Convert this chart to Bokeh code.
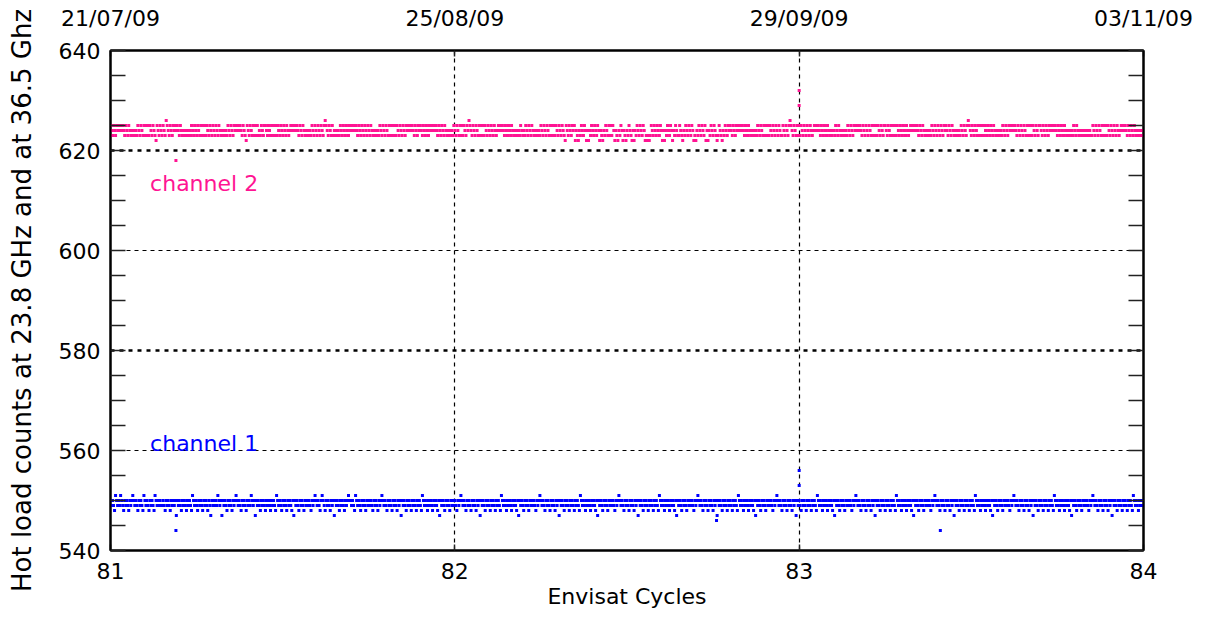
import numpy as np
from bokeh.plotting import figure
from bokeh.models import LinearAxis, FixedTicker, Range1d, Label, Grid
from bokeh.embed import file_html
from bokeh.resources import INLINE

# ---------------- data ----------------
cycle_start, cycle_end = 81.0, 84.0
x_ticks = [81, 82, 83, 84]
top_dates = ["21/07/09", "25/08/09", "29/09/09", "03/11/09"]
y_major = [540, 560, 580, 600, 620, 640]
y_minor = [545, 550, 555, 565, 570, 575, 585, 590, 595, 605, 610, 615, 625, 630, 635]
grid_bold = [580, 620]
grid_thin = [560, 600]
grid_vert = [82, 83]

# channel 2 hot-load counts, one digit per sample = count - 620
ch2_base = 620
ch2_digits = (
    "543543545454543543543434343543543535353543543254354"
    "354365435435454543543434343435435435435353535435435"
    "435435434343435435435454545435432543543535353435435"
    "543543535353543543543543454545454354354343434354354"
    "354354356543543534343435435435435454545435435435435"
    "435434343435435435435353535354354354354545454354354"
    "543543543545454543543543543434343543543535354354654"
    "354354353535354354354354345454543543543543434343543"
    "435435435434343435435435435353535435435432543543545"
    "243243543542424354354354243243543535354243243542432"
    "435432424354354354232323543543543542424354354243543"
    "354324354354354232435435435242435435432354324354354"
    "543543545454543543543434343543543535353543543543543"
    "354354356543543535354354354354345454543543543543434"
    "435435434343435435435454545435435435435353535435435"
    "543543535353543543543543454545454354354343434354354"
    "354354354543543543434343543543565435435435353535435"
    "435435434343435435435454545435435435435353535435435"
    "543543543545454543543543543434343543543434343434343"
    "354354354353535354354354354345454543543543543434343"
)
ch2_out_x = [81.19, 83.0, 83.0]
ch2_out_y = [618, 632, 629]

# channel 1 hot-load counts, one digit per sample = count - 545
ch1_base = 545
ch1_digits = (
    "545436545465435454354565454354543654543545436545454"
    "454354543545452545435454354543654543545435454354254"
    "545465452545435454354565454354543545465452545435454"
    "354543545436545435454354543525454354543545454354565"
    "454356543545435452545435454354565545436545435454354"
    "545435454354565454354543545435452545435454354543545"
    "436545435454354543525454354543545454354565454354543"
    "545435452545435454354543545436545435454354543525454"
    "354543545454354565454354543545435452545435454354543"
    "545436545435454354543525454354543545454354565454354"
    "543545435452545435454354543545436545435454354543525"
    "454354543545454354565454354543545435452545435454354"
    "543545436545435454354543525454354543545454354565454"
    "354543545435452545435454354543545436545435454354543"
    "525454354543545454354565454354543545435452545435454"
    "354543545436545435454354543525454354543545454354565"
    "454354543545435452545435454354543545436545435454354"
    "543525454354543545454354565454354543545435452545435"
    "454354543545436545435454354543525454354543545454354"
    "565454354543545435452545435454354543545436545435454"
)
ch1_out_x = [81.19, 83.0, 83.0, 83.41, 82.76]
ch1_out_y = [544, 556, 553, 544, 546]

FONT = "DejaVu Sans"
PINK = "#ff1493"
BLUE = "#0000ff"


def series(digits, base):
    n = len(digits)
    xs = cycle_start + (cycle_end - cycle_start) * np.arange(n) / n
    ys = np.array([base + int(c) for c in digits])
    return xs, ys


x2, y2 = series(ch2_digits, ch2_base)
x1, y1 = series(ch1_digits, ch1_base)

p = figure(frame_width=1033, frame_height=500,
           x_range=Range1d(cycle_start, cycle_end), y_range=Range1d(540, 640),
           output_backend="svg", toolbar_location=None,
           min_border_left=110, min_border_right=76,
           min_border_top=50, min_border_bottom=69)
p.background_fill_color = "white"
p.border_fill_color = "white"
p.outline_line_color = "black"
p.outline_line_width = 2
p.xgrid.visible = False
p.ygrid.visible = False

# grids
p.add_layout(Grid(dimension=1, ticker=FixedTicker(ticks=grid_bold),
                  grid_line_color="black", grid_line_width=2.5, grid_line_dash="4 5"))
p.add_layout(Grid(dimension=1, ticker=FixedTicker(ticks=grid_thin),
                  grid_line_color="black", grid_line_width=1, grid_line_dash="4 4"))
p.add_layout(Grid(dimension=0, ticker=FixedTicker(ticks=grid_vert),
                  grid_line_color="black", grid_line_width=1.2, grid_line_dash="4 4"))


def style_axis(ax, tick_in):
    ax.axis_line_color = "black"
    ax.axis_line_width = 2
    ax.major_tick_line_color = "#222222"
    ax.minor_tick_line_color = "#222222"
    ax.major_tick_line_width = 1.5
    ax.minor_tick_line_width = 1.5
    ax.major_tick_in = tick_in
    ax.major_tick_out = 0
    ax.minor_tick_in = tick_in
    ax.minor_tick_out = 0
    ax.major_label_text_font = FONT
    ax.major_label_text_font_size = "22px"
    ax.major_label_text_color = "black"
    ax.axis_label_text_font = FONT
    ax.axis_label_text_font_style = "normal"
    ax.axis_label_text_color = "black"


# bottom axis
xa = p.xaxis[0]
xa.ticker = FixedTicker(ticks=x_ticks)
style_axis(xa, 6)
xa.major_label_standoff = 12
xa.axis_label = "Envisat Cycles"
xa.axis_label_text_font_size = "22px"
xa.axis_label_standoff = 2

# left axis
ya = p.yaxis[0]
ya.ticker = FixedTicker(ticks=y_major, minor_ticks=y_minor)
style_axis(ya, 15)
ya.major_label_standoff = 10
ya.axis_label = "Hot load counts at 23.8 GHz and at 36.5 Ghz"
ya.axis_label_text_font_size = "26px"
ya.axis_label_standoff = 19

# right axis (ticks only)
ra = LinearAxis(ticker=FixedTicker(ticks=y_major, minor_ticks=y_minor))
style_axis(ra, 15)
ra.major_label_overrides = {v: "" for v in y_major}
p.add_layout(ra, "right")

# top axis with dates
ta = LinearAxis(ticker=FixedTicker(ticks=x_ticks))
style_axis(ta, 6)
ta.major_label_overrides = {t: d for t, d in zip(x_ticks, top_dates)}
ta.major_label_standoff = 20
p.add_layout(ta, "above")

# data
p.scatter(x2, y2, marker="square", size=3, fill_color=PINK, line_color=None)
p.scatter(ch2_out_x, ch2_out_y, marker="square", size=3, fill_color=PINK, line_color=None)
p.scatter(x1, y1, marker="square", size=3, fill_color=BLUE, line_color=None)
p.scatter(ch1_out_x, ch1_out_y, marker="square", size=3, fill_color=BLUE, line_color=None)

# channel labels
p.add_layout(Label(x=81.115, y=613.4, text="channel 2", text_color=PINK,
                   text_font=FONT, text_font_size="22px", text_baseline="middle"))
p.add_layout(Label(x=81.115, y=561.4, text="channel 1", text_color=BLUE,
                   text_font=FONT, text_font_size="22px", text_baseline="middle"))

open("out.html", "w").write(file_html(p, INLINE))
